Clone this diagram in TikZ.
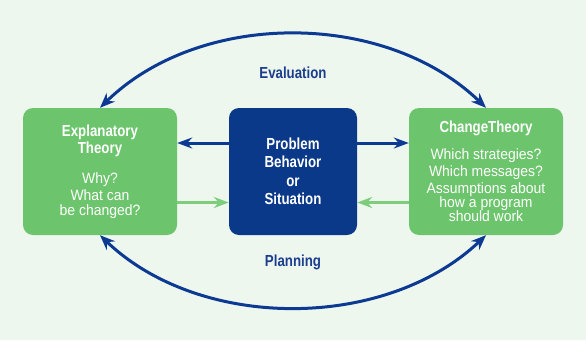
\documentclass[tikz,border=0pt]{standalone}
\usepackage{fontspec}
\setmainfont{Liberation Sans}
\newfontfamily\condfont{Liberation Sans}[FakeStretch=0.83]
\newfontfamily\bodyfam{Liberation Sans}[FakeStretch=0.93]
\usetikzlibrary{arrows.meta}
\definecolor{bgc}{HTML}{EEF7EE}
\definecolor{boxgreen}{HTML}{6CC56C}
\definecolor{arrowgreen}{HTML}{7DCD7D}
\definecolor{boxblue}{HTML}{0A398A}
\definecolor{arcblue}{HTML}{0C3A92}
\definecolor{lblblue}{HTML}{1C3E8E}
\newcommand{\ttlfont}{\condfont\bfseries\fontsize{16}{18.5}\selectfont}
\newcommand{\bdyfont}{\bodyfam\fontsize{15}{17}\selectfont}
\begin{document}
\begin{tikzpicture}[x=1pt,y=-1pt,
  box/.style={rounded corners=10pt, minimum width=154pt, minimum height=127pt,
    inner sep=0pt, align=center, text=white, fill=boxgreen, font=\bdyfont},
  cbox/.style={box, fill=boxblue, minimum width=128pt},
  arc/.style={draw=arcblue, line width=3pt, {Stealth[length=15pt,width=12pt,inset=5pt]}-{Stealth[length=15pt,width=12pt,inset=5pt]}},
  barrow/.style={draw=arcblue, line width=3pt, -{Stealth[length=15pt,width=11pt,inset=5pt]}},
  garrow/.style={draw=arrowgreen, line width=3pt, -{Stealth[length=15pt,width=11pt,inset=5pt]}},
  lbl/.style={text=lblblue, font=\ttlfont, inner sep=0pt}]
\fill[bgc] (0,0) rectangle (586,340);
\useasboundingbox (0,0) rectangle (586,340);
\node[box] (L) at (100,171.5) {\ttlfont Explanatory\\\ttlfont Theory\\[13pt]Why?\\What can\\[-2pt]be changed?};
\node[cbox, font=\ttlfont] (C) at (293,171.5) {Problem\\Behavior\\or\\Situation};
\node[box] (R) at (486,171.5) {\ttlfont ChangeTheory\\[10pt]Which strategies?\\Which messages?\\Assumptions about\\[-3pt]how a program\\[-3pt]should work};
\draw[barrow] ([yshift=28.5pt]C.west) -- ([yshift=28.5pt]L.east);
\draw[barrow] ([yshift=28.5pt]C.east) -- ([yshift=28.5pt]R.west);
\draw[garrow] ([yshift=-31pt]L.east) -- ([yshift=-31pt]C.west);
\draw[garrow] ([yshift=-31pt]R.west) -- ([yshift=-31pt]C.east);
\draw[arc] (L.north) .. controls (200,10) and (385,10) .. (R.north);
\draw[arc] (L.south) .. controls (200,331) and (385,331) .. (R.south);
\node[lbl] (ev) at (293,73) {Evaluation};
\node[lbl] (pl) at (293,262) {Planning};
\end{tikzpicture}
\end{document}
